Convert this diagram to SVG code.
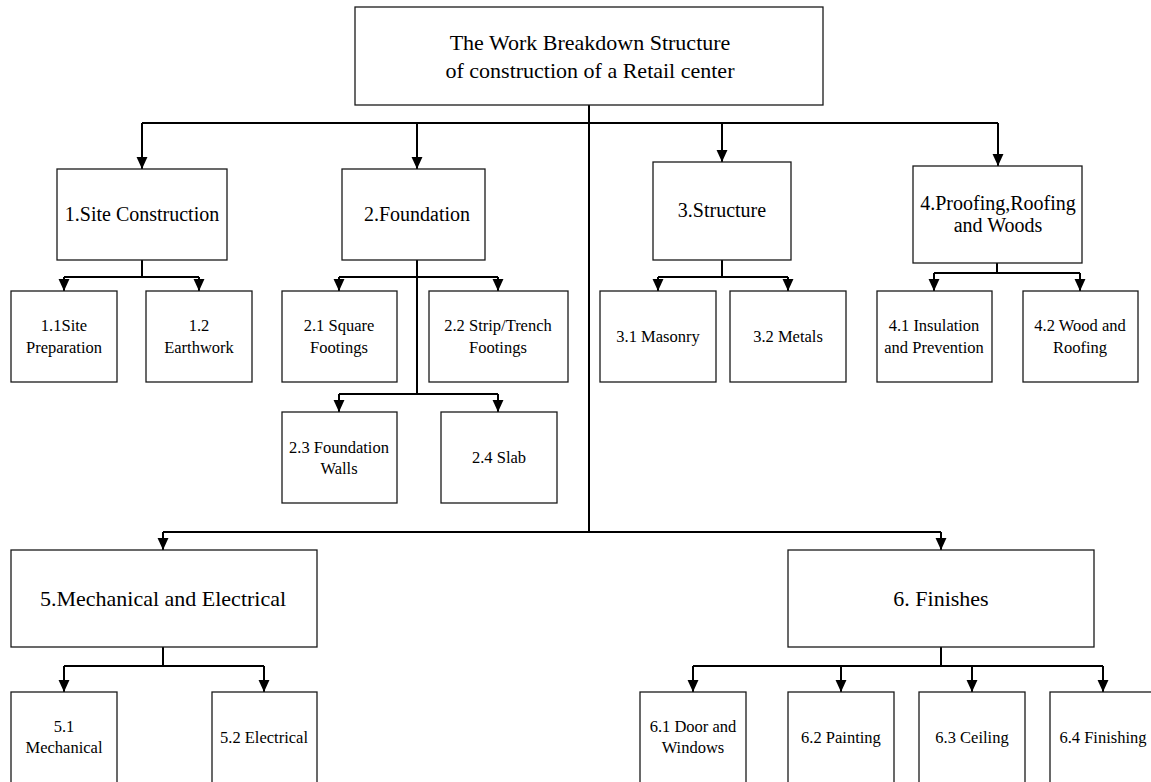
<svg xmlns="http://www.w3.org/2000/svg" width="1151" height="782" viewBox="0 0 1151 782">
  <style>
    .box { fill: #ffffff; stroke: #1a1a1a; stroke-width: 1.3; }
    .t { font-family: 'Liberation Serif', 'Times New Roman', Times, 'DejaVu Serif', serif; fill: #000; text-anchor: middle; }
    .t22 { font-size: 22px; }
    .t20 { font-size: 20px; }
    .t16 { font-size: 16.5px; }
    .wire { fill: none; stroke: #000; stroke-width: 2; }
    .arr { fill: none; stroke: #000; stroke-width: 2; marker-end: url(#head); }
  </style>
  <defs>
    <marker id="head" markerUnits="userSpaceOnUse" markerWidth="12" markerHeight="12" refX="11" refY="5" orient="auto" viewBox="0 0 11 10">
      <path d="M0,0 L11,5 L0,10 Z" fill="#000"/>
    </marker>
  </defs>

  <rect width="1151" height="782" fill="#ffffff"/>

  <!-- connectors -->
  <g id="connectors">
    <!-- root to level 1 -->
    <path class="wire" d="M589,105 V532"/>
    <path class="wire" d="M142,123 H998"/>
    <path class="arr" d="M142,123 V169"/>
    <path class="arr" d="M417,123 V169"/>
    <path class="arr" d="M722,123 V162"/>
    <path class="arr" d="M998,123 V166"/>
    <path class="wire" d="M163,532 H941"/>
    <path class="arr" d="M163,532 V550"/>
    <path class="arr" d="M941,532 V550"/>

    <!-- 1 -->
    <path class="wire" d="M142,260 V277 M64,277 H199"/>
    <path class="arr" d="M64,277 V291"/>
    <path class="arr" d="M199,277 V291"/>

    <!-- 2 -->
    <path class="wire" d="M417,260 V394 M339,277 H498 M339,394 H498"/>
    <path class="arr" d="M339,277 V291"/>
    <path class="arr" d="M498,277 V291"/>
    <path class="arr" d="M339,394 V412"/>
    <path class="arr" d="M498,394 V412"/>

    <!-- 3 -->
    <path class="wire" d="M722,260 V277 M658,277 H788"/>
    <path class="arr" d="M658,277 V291"/>
    <path class="arr" d="M788,277 V291"/>

    <!-- 4 -->
    <path class="wire" d="M997,263 V273 M934,273 H1080"/>
    <path class="arr" d="M934,273 V291"/>
    <path class="arr" d="M1080,273 V291"/>

    <!-- 5 -->
    <path class="wire" d="M163,647 V666 M64,666 H264"/>
    <path class="arr" d="M64,666 V692"/>
    <path class="arr" d="M264,666 V692"/>

    <!-- 6 -->
    <path class="wire" d="M941,647 V666 M693,666 H1103"/>
    <path class="arr" d="M693,666 V692"/>
    <path class="arr" d="M841,666 V692"/>
    <path class="arr" d="M972,666 V692"/>
    <path class="arr" d="M1103,666 V692"/>
  </g>

  <g font-family="'Liberation Serif', 'Times New Roman', Times, 'DejaVu Serif', serif">
  <!-- root -->
  <g id="root">
    <rect class="box" x="355" y="7" width="468" height="98"/>
    <text class="t t22" x="590" y="50">The Work Breakdown Structure</text>
    <text class="t t22" x="590" y="78">of construction of a Retail center</text>
  </g>

  <!-- level 1 -->
  <g id="n1">
    <rect class="box" x="57" y="169" width="170" height="91"/>
    <text class="t t20" x="142" y="221">1.Site Construction</text>
  </g>
  <g id="n2">
    <rect class="box" x="342" y="169" width="143" height="91"/>
    <text class="t t20" x="417" y="221">2.Foundation</text>
  </g>
  <g id="n3">
    <rect class="box" x="653" y="162" width="138" height="98"/>
    <text class="t t20" x="722" y="217">3.Structure</text>
  </g>
  <g id="n4">
    <rect class="box" x="913" y="166" width="169" height="97"/>
    <text class="t t20" x="998" y="210">4.Proofing,Roofing</text>
    <text class="t t20" x="998" y="232">and Woods</text>
  </g>

  <!-- level 2 under 1 -->
  <g id="n1_1">
    <rect class="box" x="11" y="291" width="106" height="91"/>
    <text class="t t16" x="64" y="331">1.1Site</text>
    <text class="t t16" x="64" y="353">Preparation</text>
  </g>
  <g id="n1_2">
    <rect class="box" x="146" y="291" width="106" height="91"/>
    <text class="t t16" x="199" y="331">1.2</text>
    <text class="t t16" x="199" y="353">Earthwork</text>
  </g>

  <!-- level 2 under 2 -->
  <g id="n2_1">
    <rect class="box" x="282" y="291" width="115" height="91"/>
    <text class="t t16" x="339" y="331">2.1 Square</text>
    <text class="t t16" x="339" y="353">Footings</text>
  </g>
  <g id="n2_2">
    <rect class="box" x="429" y="291" width="139" height="91"/>
    <text class="t t16" x="498" y="331">2.2 Strip/Trench</text>
    <text class="t t16" x="498" y="353">Footings</text>
  </g>
  <g id="n2_3">
    <rect class="box" x="282" y="412" width="115" height="91"/>
    <text class="t t16" x="339" y="453">2.3 Foundation</text>
    <text class="t t16" x="339" y="474">Walls</text>
  </g>
  <g id="n2_4">
    <rect class="box" x="441" y="412" width="116" height="91"/>
    <text class="t t16" x="499" y="463">2.4 Slab</text>
  </g>

  <!-- level 2 under 3 -->
  <g id="n3_1">
    <rect class="box" x="600" y="291" width="116" height="91"/>
    <text class="t t16" x="658" y="342">3.1 Masonry</text>
  </g>
  <g id="n3_2">
    <rect class="box" x="730" y="291" width="116" height="91"/>
    <text class="t t16" x="788" y="342">3.2 Metals</text>
  </g>

  <!-- level 2 under 4 -->
  <g id="n4_1">
    <rect class="box" x="877" y="291" width="115" height="91"/>
    <text class="t t16" x="934" y="331">4.1 Insulation</text>
    <text class="t t16" x="934" y="353">and Prevention</text>
  </g>
  <g id="n4_2">
    <rect class="box" x="1023" y="291" width="115" height="91"/>
    <text class="t t16" x="1080" y="331">4.2 Wood and</text>
    <text class="t t16" x="1080" y="353">Roofing</text>
  </g>

  <!-- level 1, lower row -->
  <g id="n5">
    <rect class="box" x="11" y="550" width="306" height="97"/>
    <text class="t t22" x="163" y="606">5.Mechanical and Electrical</text>
  </g>
  <g id="n6">
    <rect class="box" x="788" y="550" width="306" height="97"/>
    <text class="t t22" x="941" y="606">6. Finishes</text>
  </g>

  <!-- level 2 under 5 -->
  <g id="n5_1">
    <rect class="box" x="11" y="692" width="106" height="100"/>
    <text class="t t16" x="64" y="732">5.1</text>
    <text class="t t16" x="64" y="753">Mechanical</text>
  </g>
  <g id="n5_2">
    <rect class="box" x="212" y="692" width="105" height="100"/>
    <text class="t t16" x="264" y="743">5.2 Electrical</text>
  </g>

  <!-- level 2 under 6 -->
  <g id="n6_1">
    <rect class="box" x="640" y="692" width="106" height="100"/>
    <text class="t t16" x="693" y="732">6.1 Door and</text>
    <text class="t t16" x="693" y="753">Windows</text>
  </g>
  <g id="n6_2">
    <rect class="box" x="788" y="692" width="106" height="100"/>
    <text class="t t16" x="841" y="743">6.2 Painting</text>
  </g>
  <g id="n6_3">
    <rect class="box" x="919" y="692" width="106" height="100"/>
    <text class="t t16" x="972" y="743">6.3 Ceiling</text>
  </g>
  <g id="n6_4">
    <rect class="box" x="1050" y="692" width="106" height="100"/>
    <text class="t t16" x="1103" y="743">6.4 Finishing</text>
  </g>
  </g>
</svg>
